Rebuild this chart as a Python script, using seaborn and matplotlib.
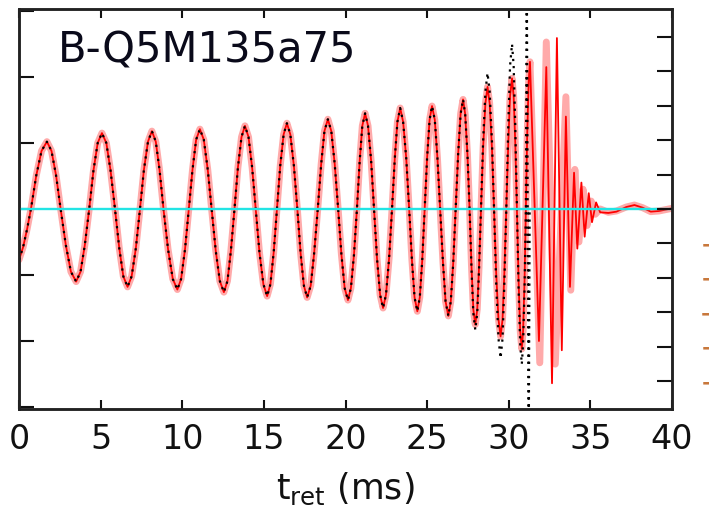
import matplotlib
matplotlib.use("Agg")
import matplotlib.pyplot as plt
import seaborn as sns

# ---------------- data ----------------
# shared inspiral part (time in ms, strain in arbitrary units)
t_insp = [0.0, 0.25, 0.5,
          0.73, 1.06, 1.38, 1.71, 1.99, 2.27,
          2.55, 2.87, 3.18, 3.5, 3.77, 4.03,
          4.3, 4.56, 4.82, 5.08, 5.35, 5.61,
          5.88, 6.14, 6.39, 6.65, 6.9, 7.16,
          7.41, 7.65, 7.9, 8.14, 8.38, 8.61,
          8.85, 9.13, 9.42, 9.7, 9.93, 10.17,
          10.4, 10.63, 10.85, 11.08, 11.32, 11.56,
          11.8, 12.05, 12.3, 12.55, 12.77, 12.98,
          13.2, 13.41, 13.63, 13.84, 14.06, 14.28,
          14.5, 14.73, 14.97, 15.2, 15.4, 15.6,
          15.8, 16.0, 16.21, 16.41, 16.62, 16.84,
          17.05, 17.25, 17.45, 17.65, 17.87, 18.08,
          18.3, 18.51, 18.71, 18.92, 19.13, 19.34,
          19.55, 19.75, 19.95, 20.15, 20.33, 20.52,
          20.7, 20.87, 21.03, 21.2, 21.38, 21.57,
          21.75, 21.93, 22.12, 22.3, 22.48, 22.67,
          22.85, 23.02, 23.18, 23.35, 23.53, 23.72,
          23.9, 24.07, 24.23, 24.4, 24.55, 24.7,
          24.85, 25.0, 25.15, 25.3, 25.47, 25.63,
          25.8, 25.97, 26.13, 26.3, 26.45, 26.6,
          26.75, 26.9, 27.05, 27.2, 27.33, 27.47]
h_insp = [-0.77, -0.58, -0.3,
          0, .51, .88, 1.02, .88, .51,
          0, -.55, -.95, -1.10, -.95, -.55,
          0, .58, 1.0, 1.15, 1.0, .58,
          0, -.59, -1.02, -1.18, -1.02, -.59,
          0, .59, 1.02, 1.18, 1.02, .59,
          0, -.61, -1.06, -1.22, -1.06, -.61,
          0, .6, 1.05, 1.21, 1.05, .6,
          0, -.63, -1.09, -1.26, -1.09, -.63,
          0, .63, 1.09, 1.26, 1.09, .63,
          0, -.66, -1.14, -1.32, -1.14, -.66,
          0, .65, 1.13, 1.30, 1.13, .65,
          0, -.67, -1.16, -1.34, -1.16, -.67,
          0, .68, 1.18, 1.36, 1.18, .68,
          0, -.69, -1.2, -1.38, -1.2, -.69,
          0, .73, 1.26, 1.45, 1.26, .73,
          0, -.75, -1.3, -1.5, -1.3, -.75,
          0, .77, 1.32, 1.53, 1.32, .77,
          0, -.78, -1.34, -1.55, -1.34, -.78,
          0, .78, 1.35, 1.56, 1.35, .78,
          0, -.81, -1.4, -1.62, -1.4, -.81,
          0, .83, 1.44, 1.66, 1.44, .83]

# late inspiral shared by the two hybrid waveforms
t_late = [27.6, 27.72, 27.83, 27.95, 28.07, 28.18,
          28.3, 28.43, 28.57, 28.7, 28.83, 28.97,
          29.1, 29.23, 29.37, 29.5, 29.62, 29.73,
          29.85, 29.97, 30.08, 30.2, 30.3, 30.4,
          30.5, 30.6, 30.7, 30.8, 30.88, 30.97,
          31.05, 31.13, 31.22, 31.3]
h_late = [0, -.88, -1.52, -1.75, -1.52, -.88,
          0, .93, 1.6, 1.85, 1.6, .93,
          0, -.97, -1.67, -1.93, -1.67, -.97,
          0, .99, 1.71, 1.98, 1.71, .99,
          0, -1.06, -1.84, -2.12, -1.84, -1.06,
          0, 1.12, 1.93, 2.23]

# merger / ring-down, red waveform
t_red_mrg = [31.85, 32.3, 32.65, 32.95, 33.25, 33.5, 33.75, 34.0, 34.2, 34.45,
             34.65, 34.9, 35.1, 35.35, 35.6, 36.1, 36.6, 37.2, 37.7, 38.2,
             38.7, 39.2, 40.0]
h_red_mrg = [-2.0, 2.15, -2.64, 2.59, -2.14, 1.4, -1.18, 0.55, -0.6, 0.4,
             -0.42, 0.24, -0.2, 0.1, -0.05, -0.06, -0.04, 0.03, 0.06, 0.02,
             -0.04, -0.03, 0.01]

# merger / ring-down, pink waveform
t_pink_mrg = [31.9, 32.3, 32.85, 33.5, 33.8, 34.05, 34.3, 34.55, 34.8, 35.05,
              35.3, 35.6, 36.1, 36.6, 37.2, 37.7, 38.2, 38.7, 39.2, 40.0]
h_pink_mrg = [-2.33, 2.53, -2.35, 1.70, -1.23, 0.6, -0.5, 0.3, -0.25, 0.12,
              -0.08, 0.0, -0.05, -0.03, 0.03, 0.06, 0.02, -0.04, -0.03, 0.01]

# numerical-relativity (black dotted) late part
t_num_tail = [27.6, 27.72, 27.83, 27.95, 28.07, 28.18,
              28.3, 28.43, 28.57, 28.7, 28.83, 28.97,
              29.1, 29.23, 29.37, 29.5, 29.62, 29.73,
              29.85, 29.97, 30.08, 30.2, 30.3, 30.4,
              30.5, 30.6, 30.7, 30.8, 30.88, 30.97,
              31.05, 31.1, 31.16, 31.22, 31.28]
h_num_tail = [0, -.92, -1.58, -1.83, -1.58, -.92,
              0, 1.03, 1.78, 2.06, 1.78, 1.03,
              0, -1.13, -1.96, -2.26, -1.96, -1.13,
              0, 1.25, 2.17, 2.5, 2.17, 1.25,
              0, -1.18, -2.04, -2.35, -2.04, -1.18,
              0, 4.0, 0.0, -4.0, 0.0]

zero_level = 0.0
x_ticks = [0, 5, 10, 15, 20, 25, 30, 35, 40]
x_tick_labels = ["0", "5", "10", "15", "20", "25", "30", "35", "40"]
left_ticks = [-3, -2, -1, 0, 1, 2, 3]
right_ticks = [-5, -4, -3, -2, -1, 0, 1, 2, 3, 4, 5]
# tick labels of the neighbouring scale; only the left edge of the
# minus signs falls inside the picture, as in the reference
right_tick_labels = ["\u22125", "\u22124", "\u22123", "\u22122", "\u22121",
                     "0", "1", "2", "3", "4", "5"]
title_text = "B-Q5M135a75"
x_label = r"$t_{ret}$ (ms)"

# ---------------- plotting ----------------
sns.set_theme(style="ticks")
plt.rcParams["font.family"] = ["DejaVu Sans"]
plt.rcParams["mathtext.default"] = "regular"

fig = plt.figure(figsize=(7.09, 5.09), dpi=100)
ax = fig.add_axes([19 / 709, 100 / 509, 653 / 709, 400 / 509])

t_pink = t_insp + t_late + t_pink_mrg
h_pink = h_insp + h_late + h_pink_mrg
t_red = t_insp + t_late + t_red_mrg
h_red = h_insp + h_late + h_red_mrg
t_num = t_insp + t_num_tail
h_num = h_insp + h_num_tail

sns.lineplot(x=t_pink, y=h_pink, ax=ax, color="#ffaaaa", lw=5.0,
             sort=False, estimator=None, zorder=2)
sns.lineplot(x=t_red, y=h_red, ax=ax, color="#ff0000", lw=1.3,
             sort=False, estimator=None, zorder=3)
sns.lineplot(x=t_num, y=h_num, ax=ax, color="black", lw=1.6,
             linestyle=(0, (1, 2.2)), sort=False, estimator=None, zorder=4)
ax.axhline(zero_level, color="#22e4e4", lw=1.7, zorder=5)

ax.set_xlim(0, 40)
ax.set_ylim(-3.03, 3.03)
ax.set_xticks(x_ticks)
ax.set_xticklabels(x_tick_labels)
ax.set_yticks(left_ticks)
ax.tick_params(axis="x", direction="in", length=6.5, width=1.5, top=True,
               bottom=True, labelsize=24, pad=10, colors="#111111")
ax.tick_params(axis="y", direction="in", length=10.8, width=1.5, left=True,
               right=False, labelleft=False, colors="#111111")
ax.set_xlabel(x_label, fontsize=25, labelpad=11, color="#111111")
ax.set_ylabel("")
for s in ax.spines.values():
    s.set_linewidth(1.8)
    s.set_color("#222222")

ax2 = ax.twinx()
ax2.set_ylim(-5.8, 5.8)
ax2.set_yticks(right_ticks)
ax2.set_yticklabels(right_tick_labels, fontsize=22, ha="right")
ax2.tick_params(axis="y", direction="in", length=10.8, width=1.5, right=True,
                pad=52, colors="#111111", labelcolor="#c8783c")
for s in ax2.spines.values():
    s.set_linewidth(1.8)
    s.set_color("#222222")

ax.text(0.06, 0.865, title_text, transform=ax.transAxes, fontsize=30,
        ha="left", va="baseline", color="#0a0a1a", zorder=6)

fig.savefig("out.png", dpi=100)
